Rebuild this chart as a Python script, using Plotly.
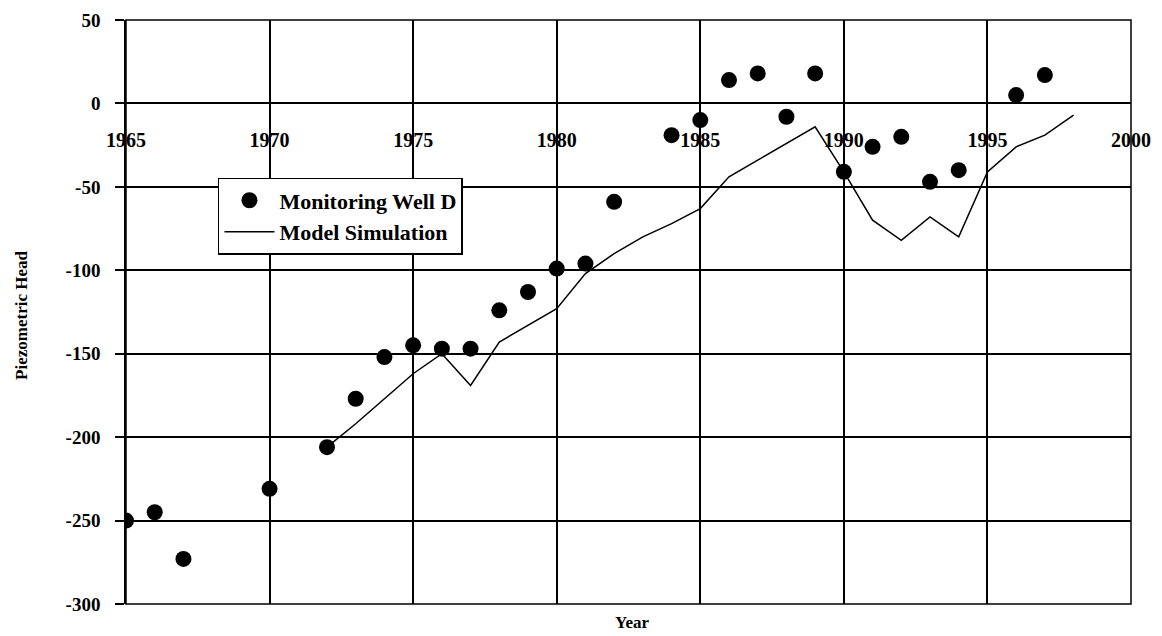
import plotly.graph_objects as go

# Observed data (Monitoring Well D)
well_years = [1965, 1966, 1967, 1970, 1972, 1973, 1974, 1975, 1976, 1977, 1978, 1979,
              1980, 1981, 1982, 1984, 1985, 1986, 1987, 1988, 1989, 1990, 1991, 1992,
              1993, 1994, 1996, 1997]
well_head = [-250, -245, -273, -231, -206, -177, -152, -145, -147, -147, -124, -113,
             -99, -96, -59, -19, -10, 14, 18, -8, 18, -41, -26, -20,
             -47, -40, 5, 17]

# Model simulation
model_years = [1972, 1973, 1974, 1975, 1976, 1977, 1978, 1979, 1980, 1981, 1982, 1983,
               1984, 1985, 1986, 1987, 1988, 1989, 1990, 1991, 1992, 1993, 1994, 1995,
               1996, 1997, 1998]
model_head = [-206, -192, -177, -162, -150, -169, -143, -133, -123, -102, -90, -80,
              -72, -63, -44, -34, -24, -14, -41, -70, -82, -68, -80, -41,
              -26, -19, -7]

x_ticks = [1965, 1970, 1975, 1980, 1985, 1990, 1995, 2000]
x_tick_labels = ["1965", "1970", "1975", "1980", "1985", "1990", "1995", "2000"]
y_ticks = [50, 0, -50, -100, -150, -200, -250, -300]
y_tick_labels = ["50", "0", "-50", "-100", "-150", "-200", "-250", "-300"]

FONT = "Liberation Serif"

fig = go.Figure()
fig.add_trace(go.Scatter(
    x=well_years, y=well_head, mode="markers", name="Monitoring Well D",
    marker=dict(color="black", size=16, symbol="circle"),
))
fig.add_trace(go.Scatter(
    x=model_years, y=model_head, mode="lines", name="Model Simulation",
    line=dict(color="black", width=1.5),
))

# y position (paper) of the zero line
zero_pos = (0 - (-300)) / (50 - (-300))

fig.update_layout(
    width=1154, height=628,
    margin=dict(l=118, r=31, t=12, b=32, autoexpand=False),
    paper_bgcolor="white", plot_bgcolor="white",
    font=dict(family=FONT, color="black", size=20, weight="bold"),
    showlegend=True,
    legend=dict(
        x=0.0915, y=0.7295, xanchor="left", yanchor="top",
        bgcolor="white", bordercolor="black", borderwidth=1.5,
        font=dict(family=FONT, size=22, color="black", weight="bold"),
        itemwidth=50, tracegroupgap=0,
    ),
    xaxis=dict(
        range=[1965, 2000], tickvals=x_ticks, ticktext=x_tick_labels,
        anchor="free", position=zero_pos, automargin=False,
        showgrid=True, gridcolor="black", gridwidth=1.5,
        showline=False, zeroline=False,
        ticks="", ticklabelstandoff=23, ticklabeloverflow="allow",
        tickfont=dict(family=FONT, size=20, color="black", weight="bold"),
    ),
    yaxis=dict(
        range=[-300, 50], tickvals=y_ticks, ticktext=y_tick_labels,
        automargin=False,
        showgrid=True, gridcolor="black", gridwidth=1.5,
        showline=True, linecolor="black", linewidth=1.5,
        zeroline=False,
        ticks="outside", ticklen=9, tickcolor="black", tickwidth=1.5,
        ticklabelstandoff=11, ticklabeloverflow="allow",
        tickfont=dict(family=FONT, size=19, color="black", weight="bold"),
    ),
    shapes=[dict(type="rect", xref="paper", yref="paper", x0=0, x1=1, y0=0, y1=1,
                 line=dict(color="black", width=1.5), fillcolor="rgba(0,0,0,0)",
                 layer="above")],
    annotations=[
        dict(text="Year", xref="paper", yref="paper", x=0.5035, y=-0.0325,
             xanchor="center", yanchor="middle", showarrow=False,
             font=dict(family=FONT, size=17, color="black", weight="bold")),
        dict(text="Piezometric Head", xref="paper", yref="paper", x=-0.1035, y=0.495,
             xanchor="center", yanchor="middle", showarrow=False, textangle=-90,
             font=dict(family=FONT, size=17, color="black", weight="bold")),
    ],
)

fig.write_html("out.html")
